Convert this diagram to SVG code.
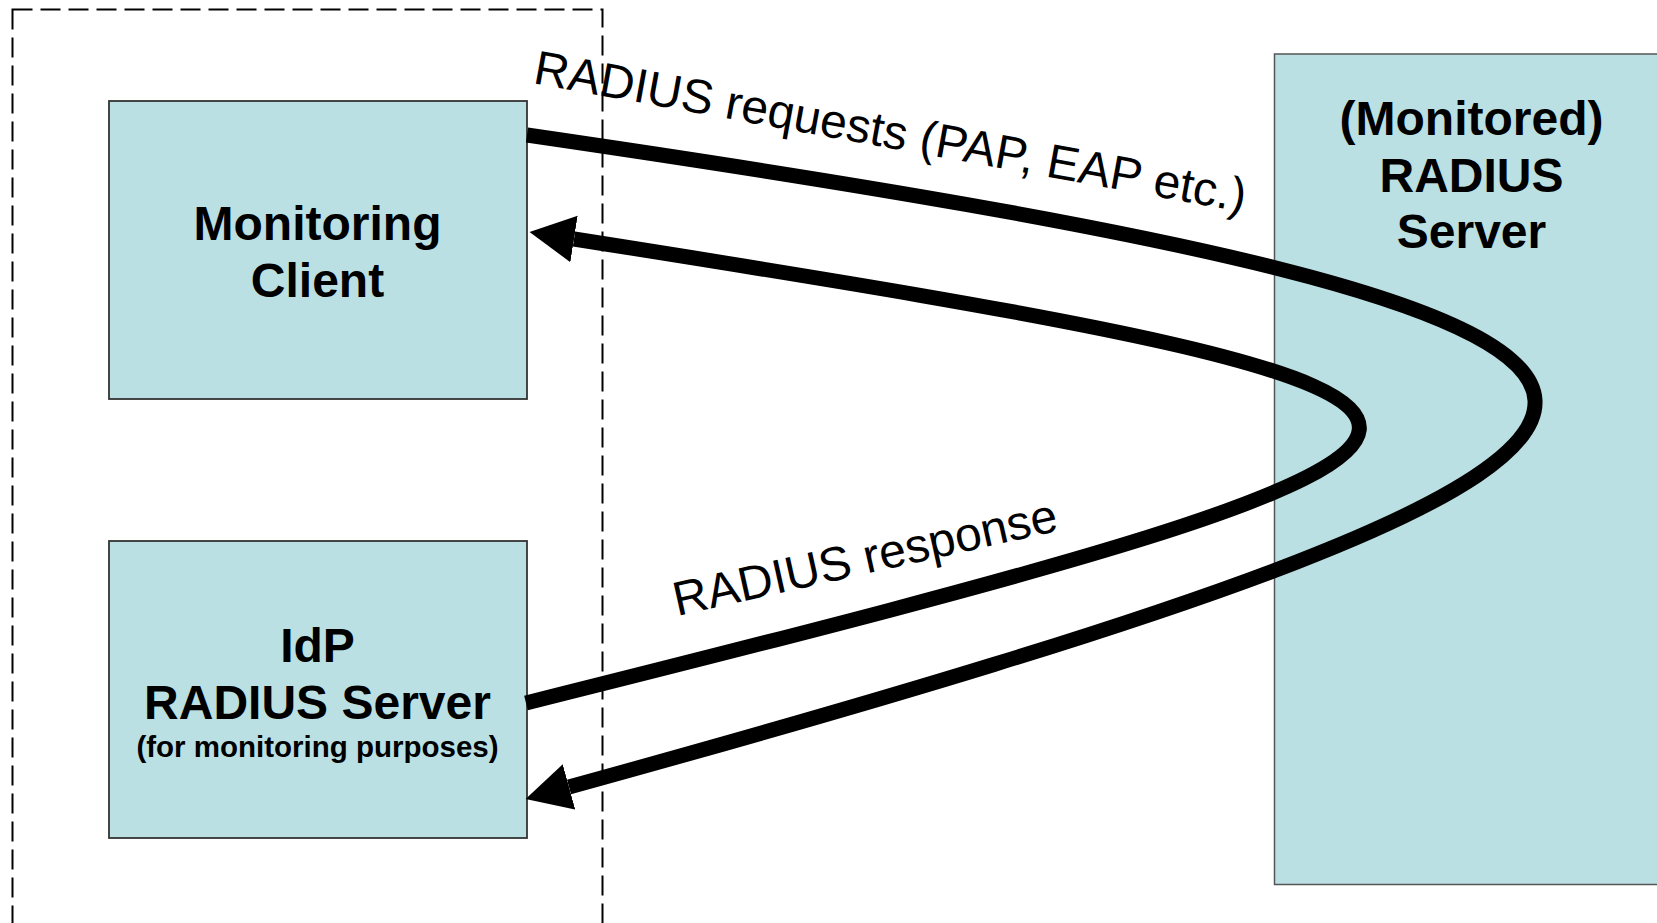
<svg xmlns="http://www.w3.org/2000/svg" width="1657" height="923" viewBox="0 0 1657 923">
<style>
.box{fill:#BAE0E3;stroke:#333;stroke-width:1.8}
.lbl{font-family:"Liberation Sans",Arial,sans-serif;font-weight:bold;font-size:48px;fill:#000;text-anchor:middle}
.small{font-size:29.5px}
.clbl{font-family:"Liberation Sans",Arial,sans-serif;font-size:48px;fill:#000}
.conn{fill:none;stroke:#000;stroke-width:15;marker-end:url(#arrow)}
</style>
<defs>
<marker id="arrow" markerUnits="userSpaceOnUse" markerWidth="50" markerHeight="50" viewBox="0 -25 50 50" refX="0" refY="0" orient="auto">
<path d="M0,-23.5 L45,0 L0,23.5 Z" fill="#000"/>
</marker>
</defs>
<rect id="boundary" x="12.5" y="9.5" width="590" height="960" fill="none" stroke="#000" stroke-width="2" stroke-dasharray="20 8"/>
<g id="monitoring-client">
<rect class="box" x="109" y="101" width="418" height="298"/>
<text class="lbl" x="317.5" y="240">Monitoring</text>
<text class="lbl" x="317.5" y="297">Client</text>
</g>
<g id="idp-server">
<rect class="box" x="109" y="541" width="418" height="297"/>
<text class="lbl" x="317.5" y="662">IdP</text>
<text class="lbl" x="317.5" y="719">RADIUS Server</text>
<text class="lbl small" x="317.5" y="757">(for monitoring purposes)</text>
</g>
<g id="monitored-server">
<rect class="box" x="1274.5" y="54" width="420" height="830.5" style="stroke:#555;stroke-width:1.5"/>
<text class="lbl" x="1471.5" y="135">(Monitored)</text>
<text class="lbl" x="1471.5" y="192">RADIUS</text>
<text class="lbl" x="1471.5" y="248">Server</text>
</g>
<g id="connectors">
<path class="conn" d="M527,135 C1864,330 1864,430 569,787"/>
<path class="conn" d="M526,703 C1629,427 1629,405 574,239"/>
<text class="clbl" transform="translate(532,83) rotate(10.3)">RADIUS requests (PAP, EAP etc.)</text>
<text class="clbl" transform="translate(677,616) rotate(-12.6)">RADIUS response</text>
</g>
</svg>
